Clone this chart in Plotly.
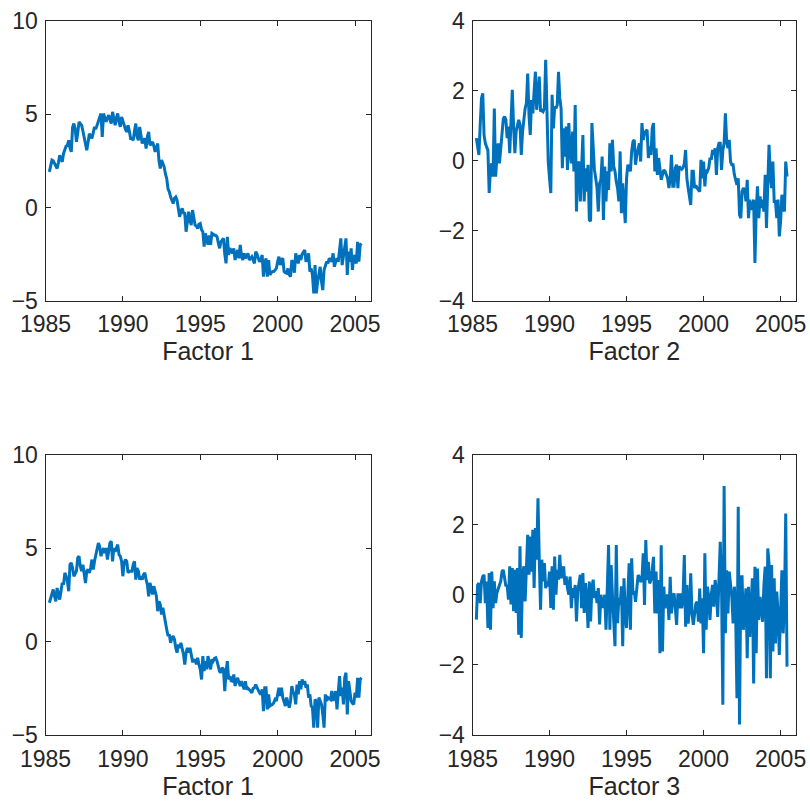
import numpy as np
import plotly.graph_objects as go

# Monthly factor estimates, first observation April 1985
START_YEAR = 1985.25

factor1_a = [
    1.91, 2.2, 2.54, 2.5, 2.36, 2.3, 2.09, 2.4, 2.8, 2.6,
    2.45, 2.9, 3.16, 3.3, 3.34, 3.6, 3.2, 2.98, 4.3, 4.5,
    4.23, 3.52, 4.0, 4.59, 4.5, 4.41, 4.1, 3.79, 3.5, 3.07,
    3.5, 3.96, 3.8, 3.7, 4.0, 4.32, 4.2, 4.41, 4.7, 4.95,
    5.04, 3.79, 5.04, 4.8, 4.59, 4.8, 4.95, 4.7, 4.5, 5.13,
    4.8, 4.41, 4.8, 5.04, 4.6, 4.32, 4.86, 4.6, 4.41, 4.2,
    4.05, 4.41, 4.1, 3.7, 3.7, 3.6, 4.1, 4.5, 3.8, 3.6,
    4.32, 3.8, 3.43, 3.6, 3.7, 3.16, 3.8, 4.05, 3.34, 3.4,
    3.52, 3.3, 2.98, 3.2, 3.43, 2.5, 2.09, 2.54, 2.4, 2.18,
    1.8, 1.55, 1.0, 0.84, 0.57, 0.4, 0.21, 0.5, 0.57, 0.39,
    0.0, -0.5, -0.2, -0.05, -0.3, -0.32, -1.3, -0.6, -0.23, -0.7,
    -0.95, -0.14, -0.5, -0.95, -1.0, -1.13, -0.9, -0.86, -1.2, -1.3,
    -2.1, -1.39, -1.7, -2.0,
    -1.5, -2.0, -1.39, -1.45, -1.48, -1.5, -1.57, -1.9, -2.19, -1.84,
    -1.75, -1.66, -2.5, -3.0, -1.57, -2.55, -2.19, -2.3, -2.46, -2.19,
    -2.82, -2.5, -2.28, -2.73, -2.01, -2.6, -2.82, -2.46, -2.73, -2.6,
    -2.46, -2.82, -2.7, -2.64, -2.8, -3.0, -2.37, -2.5, -2.73, -2.91,
    -2.8, -2.55, -3.71, -3.0, -2.73, -3.71, -2.82, -3.62, -3.5, -3.44,
    -3.44, -3.35, -3.27, -2.9, -2.64, -3.09, -2.8, -2.73, -3.44, -3.5,
    -3.53, -3.27, -3.6, -3.71, -2.82, -3.0, -3.5, -2.46, -2.7, -3.0,
    -2.55, -2.82, -2.5, -2.37, -2.28, -2.91, -2.6, -2.46, -3.44, -3.27,
    -3.62, -4.61, -3.09, -4.61, -3.98, -3.5, -3.18, -3.98, -4.43, -3.35,
    -3.1, -2.91, -3.0, -2.73, -2.8, -2.91, -2.46, -3.18, -2.9, -2.73,
    -2.91, -2.19, -1.66, -3.09, -2.5, -2.19, -1.66, -3.62, -2.37, -2.91,
    -2.19, -3.35, -2.55, -2.8, -3.0, -1.84, -2.91, -2.01, -1.93,
]

factor2 = [
    0.65, 0.4, 0.17, 1.03, 1.79, 1.93, 0.74, 0.5, 0.41, 0.3,
    -0.92, -0.21, -0.07, -0.45, 1.5, -0.45, 0.1, 0.5, -0.07, 0.36,
    0.93, 1.2, 1.27, 1.17, 0.65, 0.98, 0.22, 1.1, 2.03, 1.0,
    0.22, 0.84, 1.0, 1.17, 1.03, 0.17, 0.84, 1.2, 1.5, 1.65,
    2.5, 1.31, 0.74, 1.74, 1.36, 2.0, 2.55, 1.46, 2.08, 2.41,
    1.41, 1.45, 1.41, 1.5, 2.89, 1.5, -0.02, -0.5, -0.92, 1.89,
    0.93, 1.55, 1.5, 1.6, 2.55, 1.8, 1.5, -0.21, 0.93, 0.12,
    0.98, -0.26, 1.08, 0.3, -0.07, 0.84, -0.3, 1.6, -1.45, -0.11,
    -0.02, -1.16, -0.11, 0.74, -1.16, -0.21, -0.88, -0.11, -1.69, -1.73,
    1.08, 0.36, -0.26, -0.5, -0.78, -1.45, -0.64, -0.54, 0.12, -1.69,
    -0.16, -1.16, -0.3, -0.83, 0.5, -0.3, 0.6, -0.16, -0.3, -0.6,
    -0.78, -1.16, 0.27, -1.5, -0.64, -1.2, -1.78, -0.5, -0.11, -0.2,
    -0.3, 0.27, 0.55, 0.6,
    -0.11, 0.17, 0.3, 0.5, -0.02, 1.08, 0.6, 0.79, 0.85, 0.89,
    0.08, 0.41, 0.17, 0.93, 1.08, -0.3, 0.36, -0.4, 0.08, -0.26,
    -0.54, -0.4, -0.26, -0.3, -0.4, -0.5, -0.78, -0.5, 0.17, -0.73,
    -0.73, -0.21, -0.11, -0.78, -0.16, -0.21, -0.24, -0.2, -0.07, 0.31,
    -0.5, -0.78, -1.02, -1.26, -0.3, -0.3, -0.78, -0.7, -0.78, -0.83,
    -0.88, 0.03, -0.5, -0.02, -0.73, -0.26, -0.3, -0.21, 0.08, 0.03,
    0.31, 0.17, 0.36, -0.4, 0.36, 0.5, 0.5, -0.26, 0.3, 0.5,
    1.36, 0.55, 0.36, 0.6, -0.02, -0.11, -0.11, -0.4, -0.59, -0.69,
    -0.5, -1.54, -1.64, -0.88, -0.78, -0.83, -1.16, -0.54, -1.64, -1.11,
    -1.4, -1.3, -1.11, -2.92, -1.45, -0.73, -1.64, -1.02, -1.35, -1.11,
    -1.45, -0.4, -1.92, -0.4, 0.46, -0.4, -0.78, -0.02, -1.16, -1.16,
    -1.64, -1.11, -2.16, -1.73, -0.97, -1.35, -1.45, -0.02, -0.45,
]

factor1_b = [
    2.07, 2.33, 2.51, 2.78, 2.42, 2.15, 2.86, 2.6, 2.24, 2.69,
    3.13, 3.04, 3.67, 3.49, 3.22, 2.69, 4.11, 4.2, 3.93, 3.49,
    3.6,
    3.76, 4.47, 4.56, 4.02, 3.76, 4.11, 3.67, 3.13, 3.76, 3.85,
    3.67, 3.93, 4.38, 3.85, 4.29, 4.65, 5.0, 5.27, 5.09, 4.56,
    4.82, 5.0, 4.73, 5.0, 4.38, 5.0, 5.27, 5.36, 4.29, 5.0,
    4.8,
    5.0, 5.18, 4.65, 4.56, 4.29, 3.49, 4.2, 4.38, 4.29, 3.67,
    3.76, 3.76, 3.76, 4.11, 4.29, 3.31, 3.93, 3.76, 3.31, 3.49,
    3.31, 3.58, 3.67, 3.31, 3.04, 2.42, 3.13, 2.86, 2.51, 2.96,
    2.7,
    2.42, 1.62, 2.15, 1.98, 1.44, 1.8, 1.35, 1.0, 0.64, 0.29,
    0.38, -0.07, 0.2, 0.29, 0.11, -0.34, -0.6, -0.16, -0.34, -0.07,
    -0.34, -0.69, -1.23, -0.6, -0.34, -0.6, -0.34, -0.78, -1.05, -1.05,
    -0.95,
    -1.23, -0.87, -1.23, -1.49, -2.03, -0.78, -1.58, -1.05, -1.49, -0.78,
    -1.2, -1.49, -0.96, -1.05, -0.9, -0.87, -1.05, -1.4, -1.6, -1.67,
    -1.4, -1.49, -2.65, -1.6, -1.05, -2.03, -1.85, -2.1, -2.12, -1.76,
    -2.38, -2.1, -1.94, -2.2, -2.38, -2.12, -2.4, -2.56, -2.12, -2.56,
    -2.5, -2.56, -2.65, -2.74, -2.5, -2.47, -2.3, -2.47, -2.65, -2.75,
    -2.83, -2.56, -3.72, -2.47, -2.47, -3.63, -2.83, -3.45, -3.4, -3.36,
    -3.27, -3.1, -3.18, -2.8, -2.47, -2.92, -2.47, -3.0, -3.18, -3.45,
    -3.0, -3.3, -3.54, -3.18, -2.38, -2.7, -2.83, -3.36, -2.3, -2.83,
    -2.12, -2.56, -2.03, -2.3, -2.12, -2.47, -2.3, -3.0, -2.83, -3.45,
    -3.54, -4.61, -3.1, -3.18, -4.61, -3.0, -3.18, -3.36, -3.9, -4.61,
    -2.83, -3.18, -3.0, -3.05, -3.1, -2.65, -3.18, -2.9, -2.65, -3.63,
    -2.65, -1.85, -2.92, -2.47, -3.36, -1.94, -1.67, -3.9, -2.12, -2.83,
    -3.18, -3.3, -3.36, -2.74, -3.0, -1.94, -3.0, -2.03, -1.94,
]

factor3 = [
    -0.71, 0.28, 0.33, -0.24, 0.38, 0.52, 0.57, -0.24, 0.38, -0.95,
    0.62, -1.0, 0.66, -0.38, 0.38, -0.24, 0.05, 0.19, 0.28, 0.38,
    0.66, 0.71, 0.5, 0.24, 0.28, -0.14, 0.81, -0.28, 0.76, -0.47,
    0.71, -0.52, 0.76, -1.14, 1.38, -1.23, 0.57, 0.81, -0.19, 0.76,
    1.71, 0.57, 1.66, 0.66, 1.85, 0.19, 1.9, 1.0, 2.75, 1.04,
    -0.43, 1.0, 0.38, 0.9, 0.19, 0.38, 0.24, 0.66, -0.38, 0.81,
    -0.43, 1.09, 0.0, 0.71, 0.43, 1.14, 0.47, 0.6, 0.81, 0.28,
    0.52, 0.19, 0.0, 0.52, -0.38, 0.19, -0.09, 0.28, -0.76, 0.1,
    0.38, 0.57, -0.38, 0.62, -0.52, 0.33, -0.09, -0.95, 0.38, -0.76,
    0.19, 0.43, -0.09, 0.1, -0.24, 0.19, -0.85, 0.0, -0.2, -0.38,
    0.0, -1.0, 0.19, 1.42, -1.0, 0.85, 0.0, -0.66, -1.47, 1.42,
    -0.81, -0.09, -0.28, 0.24, -1.47, 0.47, -0.57, -0.95, 0.0, 0.9,
    -1.0, 1.04, 0.0, 0.1,
    -0.2, 0.32, 0.56, 0.51, 0.37, 0.42, 1.18, -0.29, 1.56, 0.42,
    0.94, 0.32, 0.42, 0.7, 1.08, -0.53, 0.66, -0.53, 0.42, -1.67,
    1.41, -1.62, 0.23, -0.39, -0.06, 0.0, -0.72, 0.51, -0.53, -0.06,
    0.04, -0.39, -0.86, 0.04, -0.39, 0.04, -0.39, -0.06, 1.13, -0.91,
    0.28, -0.82, -0.39, 0.61, -0.53, -0.86, -0.5, -0.25, -0.2, -0.77,
    0.18, -0.82, -0.1, -1.67, 1.18, -1.0, 0.23, -0.06, -0.72, 0.0,
    0.28, -0.34, 0.42, 0.13,
    -0.63, 0.7, 1.51, 0.23, -3.14, 3.1, -1.1, 0.7, -0.53, 0.66,
    0.3, -0.06, -0.82, 0.23, -0.53, -2.95, 2.51, -3.7, 0.51, 0.51,
    -1.0, -0.53, 0.18, -1.81, 0.23, -1.2, -0.53, 0.47, -2.53, 0.8,
    -1.67, 0.75, -0.72, -0.06, -0.4, -0.77, 0.28, 0.8, -2.38, 1.32,
    0.89, -2.38, 0.85, -1.62, 0.47, -1.39, 0.09, -0.5, -1.72, -0.2,
    0.7, -1.1, -0.25, 2.32, -2.05,
]

panel_series = [factor1_a, factor2, factor1_b, factor3]
panel_titles = ["Factor 1", "Factor 2", "Factor 1", "Factor 3"]

year_ticks = [1985, 1990, 1995, 2000, 2005]
year_range = [1985, 2006]
wide_ticks = [-5, 0, 5, 10]
wide_range = [-5, 10]
narrow_ticks = [-4, -2, 0, 2, 4]
narrow_range = [-4, 4]
panel_yticks = [wide_ticks, narrow_ticks, wide_ticks, narrow_ticks]
panel_yranges = [wide_range, narrow_range, wide_range, narrow_range]

W, H = 810, 803
LINE_BLUE = "#0072BD"
INK = "#262626"
FONT = "Liberation Sans, Arial, Helvetica, sans-serif"

# plot boxes in pixels: (left, right, top, bottom)
boxes = [
    (45.5, 370.5, 21.0, 300.7),
    (472.5, 796.0, 21.0, 300.7),
    (45.5, 370.5, 454.5, 735.0),
    (472.5, 796.0, 454.5, 735.0),
]

fig = go.Figure()

for i, values in enumerate(panel_series):
    n = i + 1
    suffix = "" if n == 1 else str(n)
    years = START_YEAR + np.arange(len(values)) / 12.0
    fig.add_trace(go.Scatter(
        x=years, y=values, mode="lines",
        line=dict(color=LINE_BLUE, width=3),
        xaxis="x" + suffix, yaxis="y" + suffix,
        showlegend=False, hoverinfo="skip",
    ))
    left, right, top, bottom = boxes[i]
    common = dict(
        showline=True, linecolor=INK, linewidth=1, mirror="ticks",
        ticks="inside", ticklen=5, tickwidth=1, tickcolor=INK,
        showgrid=False, zeroline=False, automargin=False,
        tickfont=dict(family=FONT, size=23, color=INK),
    )
    fig.update_layout({
        "xaxis" + suffix: dict(
            domain=[left / W, right / W], range=year_range,
            tickvals=year_ticks, anchor="y" + suffix,
            ticklabelstandoff=3,
            title=dict(text=panel_titles[i], standoff=1,
                       font=dict(family=FONT, size=25, color=INK)),
            **common,
        ),
        "yaxis" + suffix: dict(
            domain=[1 - bottom / H, 1 - top / H], range=panel_yranges[i],
            tickvals=panel_yticks[i], anchor="x" + suffix,
            ticklabelstandoff=2,
            **common,
        ),
    })

fig.update_layout(
    width=W, height=H,
    margin=dict(l=0, r=0, t=0, b=0, autoexpand=False),
    paper_bgcolor="white", plot_bgcolor="white",
    font=dict(family=FONT, color=INK),
)

fig.write_html("out.html", config={"displayModeBar": False})
